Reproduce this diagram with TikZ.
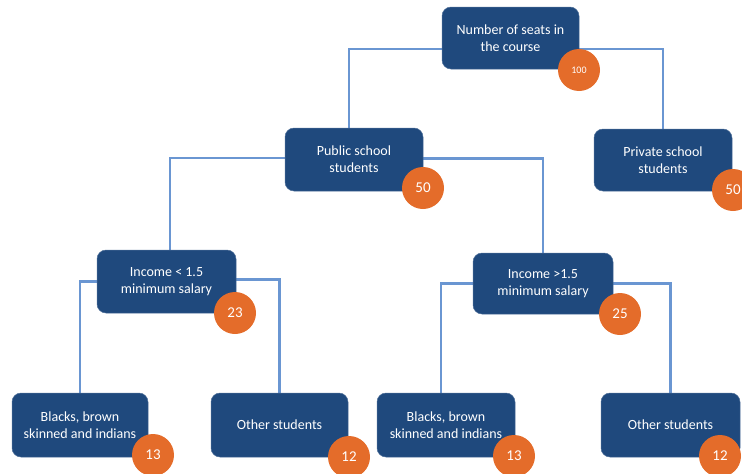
\documentclass[tikz,border=0pt]{standalone}
\usepackage{fontspec}
\setmainfont{Carlito}
\usetikzlibrary{backgrounds}
\definecolor{boxblue}{HTML}{1F497D}
\definecolor{linkblue}{HTML}{6A96D2}
\definecolor{badgeorange}{HTML}{E46C2A}
\begin{document}
\begin{tikzpicture}[x=1pt,y=-1pt,
  box/.style={fill=boxblue, draw=boxblue!80!white, line width=0.5pt, rounded corners=9pt,
    text=white, align=center, minimum height=62pt, minimum width=138pt, inner sep=0pt,
    font=\fontsize{14}{17}\selectfont},
  badge/.style={circle, fill=badgeorange, text=white, minimum size=42pt, inner sep=0pt,
    font=\fontsize{15}{15}\selectfont},
  link/.style={draw=linkblue, line width=2.2pt}]
\useasboundingbox (0,0) rectangle (742,474);

\node[box, minimum width=137pt] (top) at (510.5,38) {Number of seats in\\the course};
\node[box, minimum height=63pt] (pub) at (354,159.5) {Public school\\students};
\node[box] (priv) at (663,160) {Private school\\students};
\node[box, minimum width=139pt, minimum height=63pt] (inlow) at (166.5,281.5) {Income {<} 1.5\\minimum salary};
\node[box, minimum width=140pt, minimum height=61pt] (inhigh) at (543,283.5) {Income {>}1.5\\minimum salary};
\node[box, minimum width=136pt, minimum height=64pt] (bl1) at (80,425) {Blacks, brown\\skinned and indians};
\node[box, minimum width=137pt, minimum height=64pt] (ot1) at (279.5,425) {Other students};
\node[box, minimum height=64pt] (bl2) at (446,425) {Blacks, brown\\skinned and indians};
\node[box, minimum width=139pt, minimum height=64pt] (ot2) at (670.5,425) {Other students};

\node[badge, font=\fontsize{10}{10}\selectfont] (b100) at (579,70) {100};
\node[badge] (b50a) at (423,188) {50};
\node[badge] (b50b) at (733,190) {50};
\node[badge] (b23) at (235,313) {23};
\node[badge] (b25) at (620,314) {25};
\node[badge] (b13a) at (153,455) {13};
\node[badge] (b12a) at (349,457) {12};
\node[badge] (b13b) at (514,456) {13};
\node[badge] (b12b) at (720,456) {12};

\begin{pgfonlayer}{background}
\draw[link] ([yshift=-11pt]top.west) -| ([xshift=-5pt]pub.north);
\draw[link] ([yshift=-11pt]top.east) -| (priv.north);
\draw[link] ([yshift=1.5pt]pub.west) -| ([xshift=3.5pt]inlow.north);
\draw[link] ([yshift=1pt]pub.east) -| (inhigh.north);
\draw[link] (inlow.west) -| (bl1.north);
\draw[link] ([yshift=2pt]inlow.east) -| (ot1.north);
\draw[link] (inhigh.west) -| ([xshift=-5pt]bl2.north);
\draw[link] (inhigh.east) -| (ot2.north);
\end{pgfonlayer}
\end{tikzpicture}
\end{document}
